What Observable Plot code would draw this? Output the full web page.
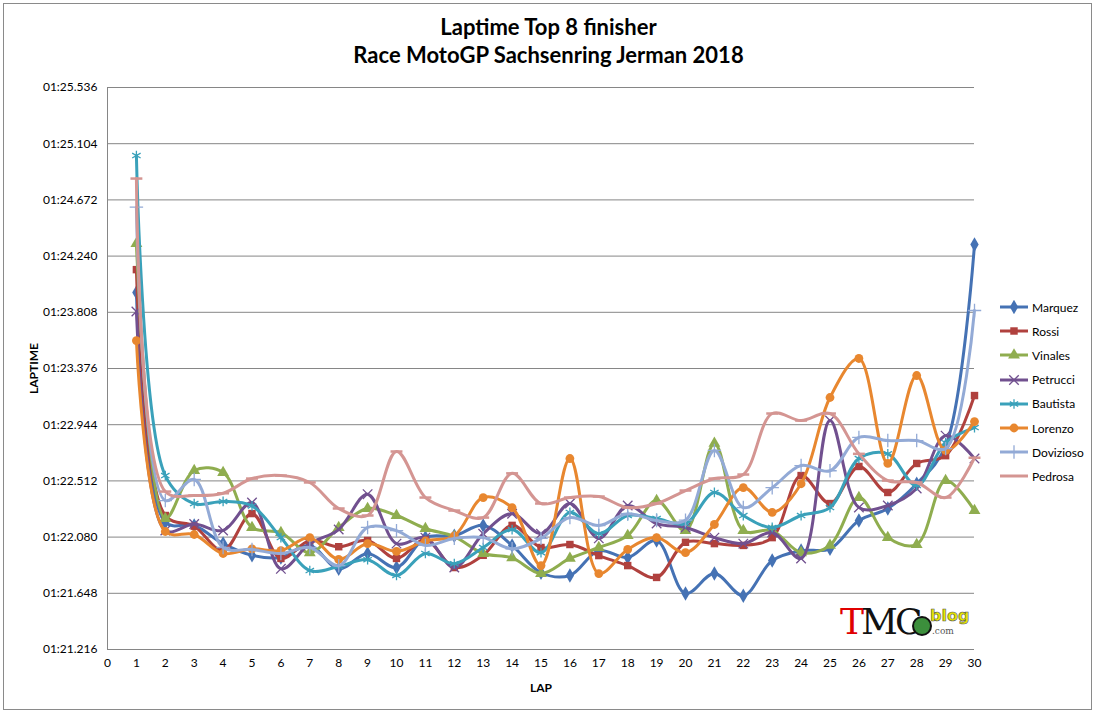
<!DOCTYPE html>
<html>
<head>
<meta charset="utf-8">
<script src="https://cdn.jsdelivr.net/npm/d3@7"></script>
<script src="https://cdn.jsdelivr.net/npm/@observablehq/plot@0.6"></script>
<style>
  html, body { margin: 0; padding: 0; background: #fff; }
  #page { position: relative; width: 1097px; height: 714px; overflow: hidden; font-family: Lato, "Open Sans", sans-serif; }
  #frame { position: absolute; left: 3px; top: 3px; width: 1089px; height: 707px; border: 1px solid #8a8a8a; box-sizing: border-box; }
  #title { position: absolute; left: 0; top: 0; width: 1097px; height: 75px; text-align: center; font-weight: bold; font-size: 22px; line-height: 28px; padding-top: 13px; box-sizing: border-box; color: #000; }
  #chart { position: absolute; left: 0; top: 75px; }
  #legend { position: absolute; left: 999px; top: 295px; font-size: 12px; color: #000; }
  #legend .item { height: 24.2px; display: flex; align-items: center; }
  #legend svg { margin-right: 3px; }
  #logo { position: absolute; left: 838px; top: 598px; width: 134px; height: 50px; background: #fff; }
  #logo .tmc { position: absolute; left: 2px; top: 4px; font-family: "DejaVu Serif", serif; font-size: 36px; line-height: 40px; letter-spacing: -3px; white-space: nowrap; }
  #logo .emb { position: absolute; left: 74px; top: 18px; width: 16px; height: 16px; border-radius: 50%; background: #3c8f3c; border: 2px solid #111; }
  #logo .blog { position: absolute; left: 92px; top: 8px; font-family: "DejaVu Sans", sans-serif; font-weight: bold; font-size: 16px; line-height: 20px; color: #e6e600; -webkit-text-stroke: 0.6px #555; }
  #logo .com { position: absolute; left: 94px; top: 28px; font-family: "DejaVu Serif", serif; font-size: 9px; color: #555; }
</style>
</head>
<body>
<div id="page">
  <div id="frame"></div>
  <div id="title">Laptime Top 8 finisher<br>Race MotoGP Sachsenring Jerman 2018</div>
  <div id="chart"></div>
  <div id="legend"></div>
  <div id="logo"><span class="tmc"><span style="color:#e00000">T</span><span style="color:#111">MC</span></span><span class="emb"></span><span class="blog">blog</span><span class="com">.com</span></div>
</div>
<script>
// ---- data (lap times in seconds) ----
const laps = [1,2,3,4,5,6,7,8,9,10,11,12,13,14,15,16,17,18,19,20,21,22,23,24,25,26,27,28,29,30];
const riders = ["Marquez","Rossi","Vinales","Petrucci","Bautista","Lorenzo","Dovizioso","Pedrosa"];

const marquez   = [83.960,82.194,82.169,82.030,81.940,81.923,82.016,81.836,81.954,81.846,82.076,82.090,82.170,82.016,81.806,81.785,81.976,81.923,82.054,81.646,81.800,81.630,81.900,81.976,81.990,82.207,82.300,82.490,82.780,84.329];
const rossi     = [84.136,82.246,82.164,81.976,82.261,81.916,82.054,82.006,82.054,81.916,82.061,81.846,81.940,82.170,82.000,82.023,81.938,81.861,81.770,82.040,82.030,82.016,82.076,82.553,82.338,82.623,82.423,82.646,82.706,83.168];
const vinales   = [84.336,82.223,82.592,82.576,82.154,82.115,81.960,82.154,82.300,82.246,82.146,82.084,81.954,81.920,81.800,81.916,82.000,82.092,82.361,82.130,82.800,82.130,82.130,81.960,82.016,82.384,82.076,82.023,82.515,82.284];
const petrucci  = [83.814,82.131,82.180,82.131,82.346,81.836,82.030,82.138,82.410,82.030,82.076,81.846,82.106,82.260,82.106,82.338,82.070,82.323,82.184,82.154,82.076,82.030,82.115,81.916,82.976,82.307,82.323,82.453,82.860,82.684];
const bautista  = [85.013,82.553,82.338,82.354,82.320,82.076,81.823,81.854,81.906,81.785,81.954,81.876,82.000,82.138,81.960,82.270,82.106,82.246,82.223,82.184,82.423,82.246,82.154,82.246,82.307,82.684,82.720,82.476,82.806,82.922];
const lorenzo   = [83.591,82.123,82.100,81.954,81.990,81.976,82.076,81.908,82.030,81.970,82.050,82.090,82.384,82.307,81.861,82.684,81.800,81.985,82.076,81.960,82.177,82.461,82.270,82.490,83.153,83.453,82.646,83.322,82.746,82.968];
const dovizioso = [84.616,82.361,82.523,82.000,81.985,81.954,82.000,81.860,82.154,82.130,82.016,82.070,82.076,81.990,82.070,82.230,82.169,82.260,82.207,82.210,82.746,82.307,82.460,82.630,82.590,82.846,82.822,82.822,82.760,83.822];
const pedrosa   = [84.836,82.430,82.400,82.417,82.530,82.553,82.500,82.300,82.246,82.738,82.384,82.284,82.230,82.570,82.338,82.384,82.392,82.307,82.338,82.438,82.530,82.561,83.030,82.976,83.030,82.720,82.515,82.500,82.384,82.690];

const seriesValues = [marquez, rossi, vinales, petrucci, bautista, lorenzo, dovizioso, pedrosa];
const colors = ["#4572b4","#b0413e","#8fad4f","#71508f","#3aa1ba","#e8872f","#93aad6","#d49592"];

const xTicks = [0,1,2,3,4,5,6,7,8,9,10,11,12,13,14,15,16,17,18,19,20,21,22,23,24,25,26,27,28,29,30];
const yTicks = [81.216,81.648,82.080,82.512,82.944,83.376,83.808,84.240,84.672,85.104,85.536];

// ---- helpers ----
function fmtTime(v) {
  const m = Math.floor(v / 60);
  const s = v - m * 60;
  return String(m).padStart(2, "0") + ":" + s.toFixed(3).padStart(6, "0");
}
const dash = { draw(ctx, size) { const w = Math.sqrt(size) * 0.8; ctx.moveTo(-w, 0); ctx.lineTo(w, 0); } };
const symbols = [d3.symbolDiamond, d3.symbolSquare, d3.symbolTriangle, d3.symbolX, d3.symbolAsterisk, d3.symbolCircle, d3.symbolPlus, dash];
const filled = [true, true, true, false, false, true, false, false];
const sizes = [4.4, 4.2, 4.4, 4.4, 4.6, 4.4, 4.4, 4.2];

const rows = [];
riders.forEach((r, i) => laps.forEach((lap, j) => rows.push({ rider: r, lap, t: seriesValues[i][j] })));

const marks = [
  Plot.ruleY(yTicks, { stroke: "#868686", strokeWidth: 1, strokeOpacity: 1 }),
  Plot.ruleX([0], { stroke: "#868686", strokeWidth: 1 })
];
riders.forEach((r, i) => {
  const data = rows.filter(d => d.rider === r);
  marks.push(Plot.line(data, { x: "lap", y: "t", stroke: colors[i], strokeWidth: 3, curve: "catmull-rom" }));
  marks.push(Plot.dot(data, {
    x: "lap", y: "t", symbol: () => symbols[i], r: sizes[i],
    fill: filled[i] ? colors[i] : "none",
    stroke: colors[i], strokeWidth: filled[i] ? 0 : (i === 7 ? 2.5 : 1.3)
  }));
});

const chart = Plot.plot({
  width: 1097, height: 639,
  marginLeft: 107, marginRight: 123, marginTop: 12, marginBottom: 65,
  style: { fontFamily: "Lato, 'Open Sans', sans-serif", fontSize: "12px", color: "#000", background: "transparent" },
  symbol: { type: "identity" },
  x: { domain: [0, 30], ticks: xTicks, tickSize: 0, tickPadding: 9, label: "LAP", labelAnchor: "center", labelOffset: 42, tickFormat: d => String(d) },
  y: { domain: [81.216, 85.536], ticks: yTicks, tickSize: 0, tickPadding: 10, tickFormat: fmtTime, label: "LAPTIME", labelAnchor: "center", labelOffset: 78 },
  marks
});
chart.querySelectorAll("g[aria-label='x-axis label'] text, g[aria-label='y-axis label'] text").forEach(t => {
  t.style.fontWeight = "bold";
  t.textContent = t.textContent.replace(/[\u2190-\u2193]/g, "").trim();
});
document.getElementById("chart").appendChild(chart);

// ---- legend ----
const legend = document.getElementById("legend");
riders.forEach((r, i) => {
  const item = document.createElement("div");
  item.className = "item";
  const sw = d3.create("svg").attr("width", 30).attr("height", 14);
  sw.append("line").attr("x1", 1).attr("x2", 29).attr("y1", 7).attr("y2", 7).attr("stroke", colors[i]).attr("stroke-width", 3);
  if (i !== 7) {
    const p = d3.symbol(symbols[i], Math.PI * sizes[i] * sizes[i])();
    sw.append("path").attr("d", p).attr("transform", "translate(15,7)")
      .attr("fill", filled[i] ? colors[i] : "none").attr("stroke", colors[i]).attr("stroke-width", filled[i] ? 0 : 1.3);
  }
  item.appendChild(sw.node());
  const txt = document.createElement("span");
  txt.textContent = r;
  item.appendChild(txt);
  legend.appendChild(item);
});
</script>
</body>
</html>
